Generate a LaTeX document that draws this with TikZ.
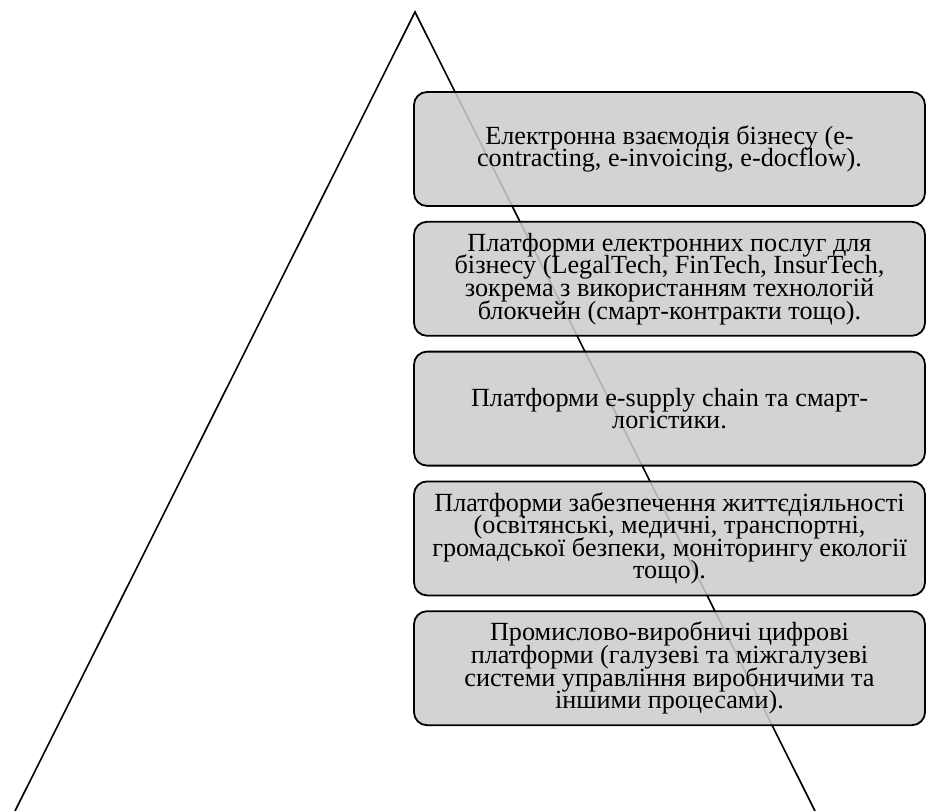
\documentclass[tikz,border=0pt]{standalone}
\usepackage{fontspec}
\setmainfont{Liberation Serif}
\usetikzlibrary{positioning}
\newcommand{\levelfont}{\fontsize{26.2}{22.6}\selectfont\setlength{\lineskiplimit}{-100pt}}
\begin{document}
\begin{tikzpicture}[x=1pt,y=-1pt]

\tikzset{level/.style={draw=black, line width=1.8pt, rounded corners=13pt, fill=black!20, fill opacity=0.87, text opacity=1,
minimum width=511pt, minimum height=114pt, inner sep=1pt, align=center, font=\levelfont},
side/.style={line width=1.6pt, black}}

\useasboundingbox (0,0) rectangle (927,811);

%the pyramid, no base
\coordinate (top) at (415,12);
\coordinate (leftfoot) at (15,811);
\coordinate (rightfoot) at (815,811);
\draw[side] (leftfoot) -- (top) -- (rightfoot);

%the levels, from top to bottom
\node[level] (ebiz) at (669.5,149) {Електронна взаємодія бізнесу (e-\\contracting, e-invoicing, e-docflow).};
\node[level, below=14pt of ebiz] (eserv) {Платформи електронних послуг для\\бізнесу (LegalTech, FinTech, InsurTech,\\зокрема з використанням технологій\\блокчейн (смарт-контракти тощо).};
\node[level, below=14pt of eserv] (supply) {Платформи e-supply chain та смарт-\\логістики.};
\node[level, below=14pt of supply] (life) {Платформи забезпечення життєдіяльності\\(освітянські, медичні, транспортні,\\громадської безпеки, моніторингу екології\\тощо).};
\node[level, below=14pt of life] (industry) {Промислово-виробничі цифрові\\платформи (галузеві та міжгалузеві\\системи управління виробничими та\\іншими процесами).};

\end{tikzpicture}
\end{document}
